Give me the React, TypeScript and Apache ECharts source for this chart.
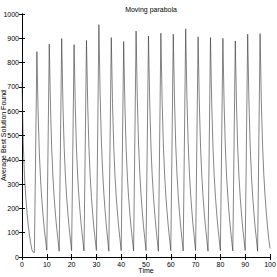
import React, { useEffect, useRef } from "react";
import * as echarts from "echarts";

// Initial decay segment, sampled every 0.5 time units from t = 0
const initialTimes = [0, 0.5, 1, 1.5, 2, 2.5, 3, 3.5, 4, 4.5, 5];
const initialValues = [720, 470, 335, 250, 185, 132, 90, 56, 30, 20, 18];

// Times at which each cycle peaks
const peakTimes = [6, 11, 16, 21, 26, 31, 36, 41, 46, 51, 56, 61, 66, 71, 76, 81, 86, 91, 96];
// Offsets (time units after each peak) at which the decay was read
const offsets = [0, 0.5, 1, 1.5, 2, 2.5, 3, 3.5, 4];
// Values read for each cycle at those offsets
const cycleValues = [
  [845, 595, 425, 315, 235, 170, 115, 70, 28],
  [876, 615, 440, 325, 240, 175, 118, 72, 24],
  [899, 630, 450, 333, 248, 180, 122, 74, 26],
  [874, 612, 437, 323, 240, 175, 118, 71, 25],
  [891, 624, 446, 330, 245, 178, 120, 73, 27],
  [956, 670, 478, 354, 263, 191, 129, 78, 24],
  [903, 632, 452, 334, 248, 181, 122, 74, 26],
  [887, 621, 444, 328, 244, 177, 120, 72, 25],
  [930, 651, 465, 344, 256, 186, 126, 76, 27],
  [909, 636, 455, 336, 250, 182, 123, 74, 24],
  [921, 645, 461, 341, 253, 184, 124, 75, 26],
  [917, 642, 459, 339, 252, 183, 124, 75, 25],
  [939, 657, 470, 347, 258, 188, 127, 77, 27],
  [906, 634, 453, 335, 249, 181, 122, 74, 24],
  [903, 632, 452, 334, 248, 181, 122, 74, 26],
  [900, 630, 450, 333, 248, 180, 122, 73, 25],
  [889, 622, 445, 329, 244, 178, 120, 72, 27],
  [917, 642, 459, 339, 252, 183, 124, 75, 24],
  [919, 643, 460, 340, 253, 184, 124, 75, 35],
];

const titleText = "Moving parabola";
const xName = "Time";
const yName = "Average Best Solution Found";

export default function App() {
  const ref = useRef<HTMLDivElement>(null);
  useEffect(() => {
    if (!ref.current) return;
    const chart = echarts.init(ref.current, undefined, { renderer: "svg" });
    const data: [number, number][] = [];
    initialTimes.forEach((t, i) => data.push([t, initialValues[i]]));
    peakTimes.forEach((pt, k) => {
      offsets.forEach((o, i) => data.push([pt + o, cycleValues[k][i]]));
    });
    const font = "Liberation Sans, Arial, sans-serif";
    const lbl = { fontFamily: font, fontSize: 7, color: "#000" };
    const axisLine = { show: true, lineStyle: { color: "#000", width: 1 } };
    const tick = { show: true, inside: true, length: 3, lineStyle: { color: "#000", width: 1 } };
    chart.setOption({
      animation: false,
      backgroundColor: "#fff",
      title: {
        text: titleText,
        left: 146,
        top: 1,
        textAlign: "center",
        textStyle: { fontFamily: font, fontSize: 7, fontWeight: "normal", color: "#000" },
      },
      grid: { left: 22, right: 7, top: 14, bottom: 20, containLabel: false, outerBoundsMode: "none" },
      xAxis: [
        {
          type: "value",
          min: 0,
          max: 100,
          interval: 10,
          name: xName,
          nameLocation: "middle",
          nameGap: 10,
          nameMoveOverlap: false,
          nameTextStyle: lbl,
          axisLine,
          axisTick: tick,
          axisLabel: { ...lbl, margin: 4 },
          splitLine: { show: false },
        },
        {
          type: "value",
          position: "top",
          min: 0,
          max: 100,
          interval: 10,
          axisLine,
          axisTick: tick,
          axisLabel: { show: false },
          splitLine: { show: false },
        },
      ],
      yAxis: [
        {
          type: "value",
          min: 0,
          max: 1000,
          interval: 100,
          name: yName,
          nameLocation: "middle",
          nameGap: 15,
          nameMoveOverlap: false,
          nameTextStyle: lbl,
          axisLine,
          axisTick: tick,
          axisLabel: { ...lbl, margin: 3, formatter: (v: number) => String(v) },
          splitLine: { show: false },
        },
        {
          type: "value",
          position: "right",
          min: 0,
          max: 1000,
          interval: 100,
          axisLine,
          axisTick: tick,
          axisLabel: { show: false },
          splitLine: { show: false },
        },
      ],
      series: [
        {
          type: "line",
          data,
          showSymbol: false,
          symbol: "none",
          smooth: false,
          lineStyle: { color: "#333", width: 0.6 },
        },
      ],
    });
    return () => chart.dispose();
  }, []);
  return (
    <div
      ref={ref}
      style={{ position: "fixed", left: 0, top: 0, width: 277, height: 277, background: "#fff" }}
    />
  );
}
